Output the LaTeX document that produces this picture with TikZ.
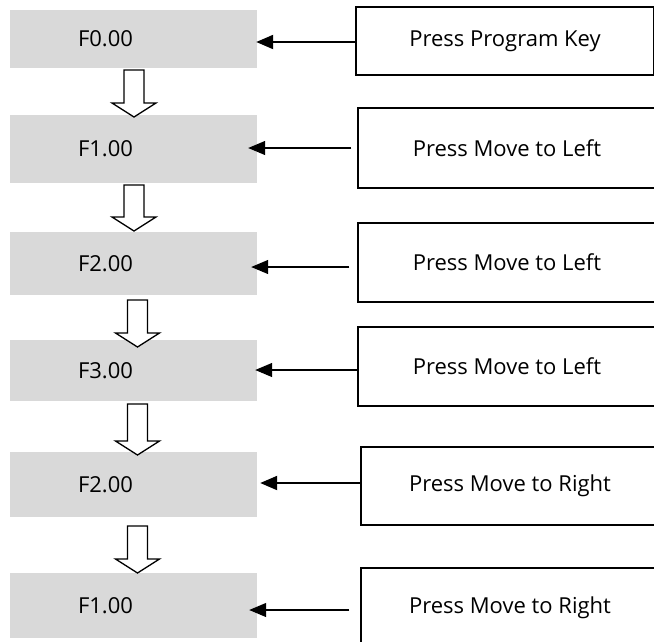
\documentclass[tikz,border=0pt]{standalone}
\usepackage{fontspec}
\setmainfont{Open Sans}
\usetikzlibrary{arrows.meta,calc}
\definecolor{boxgray}{HTML}{D9D9D9}
\tikzset{
  gbox/.style={fill=boxgray, draw=none, minimum width=247pt, text width=111pt, inner xsep=68pt, align=left, font=\fontsize{22}{24}\selectfont},
  rbox/.style={draw=black, line width=1.3pt, fill=white, minimum width=298pt, align=center, font=\fontsize{22}{24}\selectfont},
  thinarr/.style={line width=1.2pt, -{Triangle[length=17pt,width=14pt]}},
  thickarr/.style={line width=2pt, -{Triangle[length=17pt,width=14pt]}},
  blk/.style={draw=black, line width=1.3pt, fill=white, line join=miter}
}
\newcommand\hollowdown[3]{%
  \draw[blk] (#1-10,#2) -- (#1+10,#2) -- (#1+10,#3-14) -- (#1+22,#3-14) -- (#1,#3) -- (#1-22,#3-14) -- (#1-10,#3-14) -- cycle;}
\begin{document}
\begin{tikzpicture}[x=1pt,y=-1pt]
\clip (0,0) rectangle (654,641);
\fill[white] (0,0) rectangle (654,641);
% gray boxes
\node[gbox, minimum height=58pt] (g1) at (133.5,39) {F0.00};
\node[gbox, minimum height=68pt] (g2) at (133.5,149) {F1.00};
\node[gbox, minimum height=63pt] (g3) at (133.5,263.5) {F2.00};
\node[gbox, minimum height=61pt] (g4) at (133.5,370.5) {F3.00};
\node[gbox, minimum height=65pt] (g5) at (133.5,484.5) {F2.00};
\node[gbox, minimum height=65pt] (g6) at (133.5,605.5) {F1.00};
% right boxes
\node[rbox, minimum height=68pt] (r1) at (505,41) {Press Program Key};
\node[rbox, minimum height=80pt] (r2) at (507,148) {Press Move to Left};
\node[rbox, minimum height=79pt] (r3) at (507,262.5) {Press Move to Left};
\node[rbox, minimum height=79pt] (r4) at (507,366.5) {Press Move to Left};
\node[rbox, minimum height=78pt] (r5) at (510,486) {Press Move to Right};
\node[rbox, minimum height=80pt] (r6) at (510,608) {Press Move to Right};
% horizontal arrows
\draw[thickarr] ([yshift=-1pt]r1.west) -- ([xshift=-1pt,yshift=-3pt]g1.east);
\draw[thinarr, shorten <=6pt] (r2.west) -- ([xshift=-9pt,yshift=1pt]g2.east);
\draw[thinarr, shorten <=8pt] ([yshift=-4.5pt]r3.west) -- ([xshift=-6pt,yshift=-3.5pt]g3.east);
\draw[thinarr] ([yshift=-3.5pt]r4.west) -- ([xshift=-2pt,yshift=0.5pt]g4.east);
\draw[thickarr] ([yshift=3pt]r5.west) -- ([xshift=3pt,yshift=1.5pt]g5.east);
\draw[thinarr, shorten <=11pt] ([yshift=-2pt]r6.west) -- ([xshift=-8pt,yshift=-4.5pt]g6.east);
% block arrows
\hollowdown{134}{70}{117}
\hollowdown{134}{185}{231}
\hollowdown{137.5}{300}{347}
\hollowdown{137.5}{404}{455}
\hollowdown{137.5}{526}{573}
\end{tikzpicture}
\end{document}
